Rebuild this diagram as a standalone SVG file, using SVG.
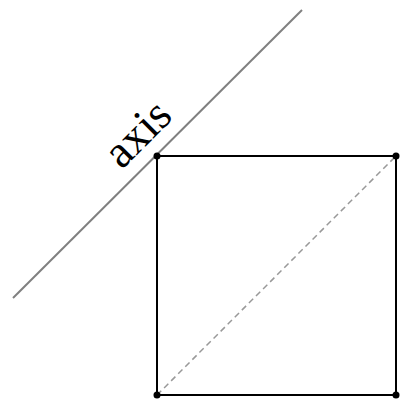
<svg xmlns="http://www.w3.org/2000/svg" width="402" height="405" viewBox="0 0 402 405">
<style>
.axis{stroke:#808080;stroke-width:2;fill:none}
.edge{stroke:#000;stroke-width:2;fill:none}
.diag{stroke:#999;stroke-width:1.5;stroke-dasharray:6,4;fill:none}
.lbl{font-family:"Liberation Serif",serif;font-size:46px;fill:#000}
.pt{fill:#000}
</style>
<rect width="402" height="405" fill="#fff"/>
<g id="connectors">
<line class="axis" x1="13" y1="298" x2="302" y2="10"/>
<line class="diag" x1="157" y1="395" x2="396" y2="156"/>
</g>
<g id="square">
<rect class="edge" x="157" y="156" width="239" height="239"/>
</g>
<g id="corners">
<circle class="pt" cx="157" cy="156" r="3.5"/>
<circle class="pt" cx="396" cy="156" r="3.5"/>
<circle class="pt" cx="157" cy="395" r="3.5"/>
<circle class="pt" cx="396" cy="395" r="3.5"/>
</g>
<g id="label">
<text class="lbl" x="0" y="0" text-anchor="middle" transform="translate(148,144) rotate(-45)">axis</text>
</g>
</svg>
